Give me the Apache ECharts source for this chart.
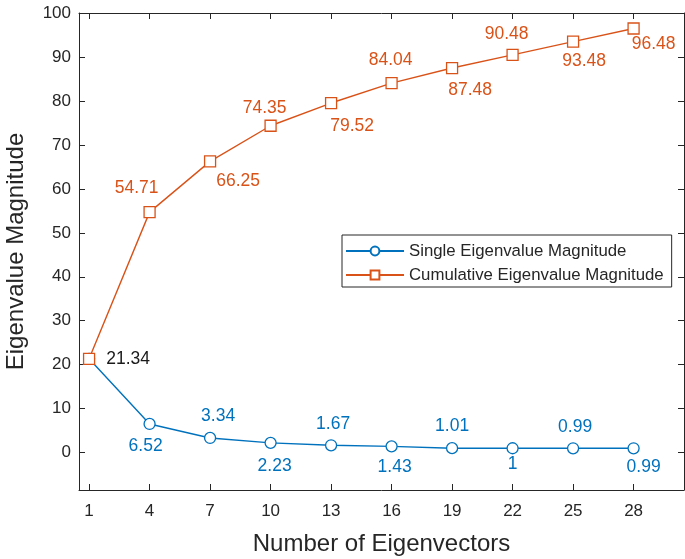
<!DOCTYPE html>
<html>
<head>
<meta charset="utf-8">
<script src="https://cdn.jsdelivr.net/npm/echarts@6/dist/echarts.min.js"></script>
<style>
html,body{margin:0;padding:0;background:#fff;}
#chart{width:685px;height:559px;}
</style>
</head>
<body>
<div id="chart"></div>
<script>
// ---- data ----
var eigenvectorCounts = [1, 4, 7, 10, 13, 16, 19, 22, 25, 28];
var singleMagnitude = [21.34, 6.52, 3.34, 2.23, 1.67, 1.43, 1.01, 1, 0.99, 0.99];
var cumulativeMagnitude = [21.34, 54.71, 66.25, 74.35, 79.52, 84.04, 87.48, 90.48, 93.48, 96.48];
var singleLabels = ['21.34', '6.52', '3.34', '2.23', '1.67', '1.43', '1.01', '1', '0.99', '0.99'];
var cumulativeLabels = ['', '54.71', '66.25', '74.35', '79.52', '84.04', '87.48', '90.48', '93.48', '96.48'];
var xTickValues = [1, 4, 7, 10, 13, 16, 19, 22, 25, 28];
var yTickValues = [0, 10, 20, 30, 40, 50, 60, 70, 80, 90, 100];
var seriesNames = ['Single Eigenvalue Magnitude', 'Cumulative Eigenvalue Magnitude'];

// ---- label placement (layout, px offsets of label centre from marker) ----
var singleLabelOffsets = [[39, 0], [-4, 22], [8, -22], [4, 23], [2, -21], [3, 21], [0, -22], [0, 16], [2, -21], [10, 19]];
var cumulativeLabelOffsets = [[0, 0], [-13, -24], [28, 20], [-6, -18], [21, 23], [-1, -23], [18, 22], [-6, -21], [11, 20], [20, 16]];

var BLUE = '#0072BD', ORANGE = '#D95319', AXIS = '#262626';
var FONT = '"Liberation Sans", Arial, Helvetica, sans-serif';

function buildData(xs, ys, labels, offsets, color, firstColor) {
  return xs.map(function (x, i) {
    var item = { value: [x, ys[i]] };
    if (labels[i] === '') {
      item.label = { show: false };
    } else {
      item.label = {
        show: true,
        formatter: labels[i],
        position: 'inside',
        offset: offsets[i],
        color: (i === 0 && firstColor) ? firstColor : color,
        fontSize: 17.5,
        fontFamily: FONT,
        align: 'center',
        verticalAlign: 'middle'
      };
    }
    return item;
  });
}

var chart = echarts.init(document.getElementById('chart'), null, { renderer: 'canvas' });

var axisCommon = {
  type: 'value',
  axisLine: { show: true, onZero: false, lineStyle: { color: AXIS, width: 1 } },
  splitLine: { show: false }
};

chart.setOption({
  backgroundColor: '#fff',
  animation: false,
  grid: { left: 79, right: 1, top: 13, bottom: 69, containLabel: false, outerBoundsMode: 'none' },
  legend: {
    orient: 'vertical',
    left: 342,
    top: 235,
    data: seriesNames,
    itemWidth: 58,
    itemHeight: 11,
    itemGap: 4,
    padding: [6, 8, 2, 3],
    borderColor: AXIS,
    borderWidth: 1,
    backgroundColor: '#fff',
    textStyle: { color: AXIS, fontSize: 16.8, fontFamily: FONT, lineHeight: 20 }
  },
  xAxis: [
    Object.assign({}, axisCommon, {
      min: 0.5, max: 30.5,
      position: 'bottom',
      name: 'Number of Eigenvectors',
      nameLocation: 'middle',
      nameGap: 42,
      nameTextStyle: { color: AXIS, fontSize: 24, fontFamily: FONT },
      axisTick: { show: true, inside: true, length: 6, customValues: xTickValues, lineStyle: { color: AXIS } },
      axisLabel: { show: true, customValues: xTickValues, color: AXIS, fontSize: 17, fontFamily: FONT, margin: 13 }
    }),
    Object.assign({}, axisCommon, {
      min: 0.5, max: 30.5,
      position: 'top',
      axisTick: { show: true, inside: true, length: 6, customValues: xTickValues, lineStyle: { color: AXIS } },
      axisLabel: { show: false }
    })
  ],
  yAxis: [
    Object.assign({}, axisCommon, {
      min: -8.5, max: 100,
      position: 'left',
      name: 'Eigenvalue Magnitude',
      nameLocation: 'middle',
      nameGap: 51,
      nameRotate: 90,
      nameTextStyle: { color: AXIS, fontSize: 24, fontFamily: FONT },
      axisTick: { show: true, inside: true, length: 6, customValues: yTickValues, lineStyle: { color: AXIS } },
      axisLabel: { show: true, customValues: yTickValues, color: AXIS, fontSize: 17, fontFamily: FONT, margin: 8 }
    }),
    Object.assign({}, axisCommon, {
      min: -8.5, max: 100,
      position: 'right',
      axisTick: { show: true, inside: true, length: 6, customValues: yTickValues, lineStyle: { color: AXIS } },
      axisLabel: { show: false }
    })
  ],
  series: [
    {
      name: seriesNames[0],
      type: 'line',
      xAxisIndex: 0, yAxisIndex: 0,
      data: buildData(eigenvectorCounts, singleMagnitude, singleLabels, singleLabelOffsets, BLUE, '#1a1a1a'),
      symbol: 'circle',
      symbolSize: 11,
      itemStyle: { color: '#fff', borderColor: BLUE, borderWidth: 1.3 },
      lineStyle: { color: BLUE, width: 1.4 },
      z: 2
    },
    {
      name: seriesNames[1],
      type: 'line',
      xAxisIndex: 0, yAxisIndex: 0,
      data: buildData(eigenvectorCounts, cumulativeMagnitude, cumulativeLabels, cumulativeLabelOffsets, ORANGE, null),
      symbol: 'rect',
      symbolSize: 11,
      itemStyle: { color: '#fff', borderColor: ORANGE, borderWidth: 1.3 },
      lineStyle: { color: ORANGE, width: 1.4 },
      z: 3
    }
  ]
});
</script>
</body>
</html>
